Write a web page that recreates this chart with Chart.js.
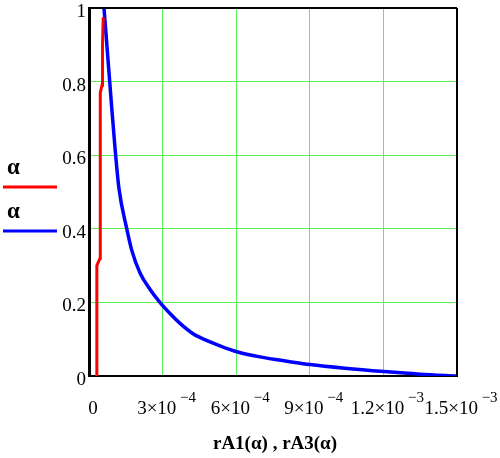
<!DOCTYPE html>
<html>
<head>
<meta charset="utf-8">
<script src="https://cdn.jsdelivr.net/npm/chart.js@4/dist/chart.umd.min.js"></script>
<style>
  html, body { margin: 0; padding: 0; background: #fff; }
  #wrap { width: 500px; height: 458px; }
</style>
</head>
<body>
<div id="wrap"><canvas id="plot"></canvas></div>
<script>
// rA1(alpha) - red trace (stepped)
const alphaRed = [0, 0.30, 0.32, 0.77, 0.79, 0.90, 0.975];
const rA1      = [3.2e-5, 3.2e-5, 4.5e-5, 4.6e-5, 5.3e-5, 5.5e-5, 5.8e-5];

// rA3(alpha) - blue trace
const alphaBlue = [1.0, 0.93, 0.86, 0.79, 0.72, 0.62, 0.51, 0.40, 0.34, 0.28, 0.235, 0.20, 0.167, 0.143, 0.115, 0.105, 0.082, 0.066, 0.052, 0.039, 0.031, 0.021, 0.012, 0.005, 0.0];
const rA3       = [6.11e-5, 6.93e-5, 7.74e-5, 8.56e-5, 9.37e-5, 1.06e-4, 1.22e-4, 1.54e-4, 1.75e-4, 2.08e-4, 2.49e-4, 2.89e-4, 3.34e-4, 3.71e-4, 4.24e-4, 4.52e-4, 5.34e-4, 6.03e-4, 6.97e-4, 8.19e-4, 9.01e-4, 1.043e-3, 1.202e-3, 1.349e-3, 1.5e-3];

// axis ticks
const xTickValues = [0, 3e-4, 6e-4, 9e-4, 1.2e-3, 1.5e-3];
const xTickMant   = ['0', '3', '6', '9', '1.2', '1.5'];
const xTickExp    = ['', '\u22124', '\u22124', '\u22124', '\u22123', '\u22123'];
const yTickValues = [0, 0.2, 0.4, 0.6, 0.8, 1];
const yTickLabels = ['0', '0.2', '0.4', '0.6', '0.8', '1'];

const legendLabels = ['\u03B1', '\u03B1'];
const axisTitle = 'rA1(\u03B1) , rA3(\u03B1)';

const SERIF = "'Liberation Serif', 'DejaVu Serif', serif";
const GRID = 'rgb(90,240,90)';

function toPoints(xs, ys) {
    return xs.map((x, i) => ({ x: x, y: ys[i] }));
}

// frame, tick labels, legend and axis title drawn Mathcad-style
const mathcadDecor = {
    id: 'mathcadDecor',
    afterDraw(chart) {
        const ctx = chart.ctx;
        const a = chart.chartArea;
        const xs = chart.scales.x, ys = chart.scales.y;
        ctx.save();

        // frame
        ctx.strokeStyle = '#000';
        ctx.lineWidth = 2;
        ctx.beginPath();
        ctx.moveTo(a.left, a.top); ctx.lineTo(a.right, a.top);
        ctx.moveTo(a.right, a.top); ctx.lineTo(a.right, a.bottom);
        ctx.stroke();

        // y tick labels
        ctx.fillStyle = '#000';
        ctx.font = '19px ' + SERIF;
        ctx.textAlign = 'right';
        ctx.textBaseline = 'middle';
        yTickValues.forEach((v, i) => {
            ctx.fillText(yTickLabels[i], a.left - 3, ys.getPixelForValue(v) + 4);
        });

        // x tick labels with raised exponent
        ctx.textAlign = 'left';
        xTickValues.forEach((v, i) => {
            let mant = xTickExp[i] ? xTickMant[i] + '\u00D710' : xTickMant[i];
            ctx.font = '19px ' + SERIF;
            let wm = ctx.measureText(mant).width;
            ctx.font = '15px ' + SERIF;
            let we = xTickExp[i] ? ctx.measureText(' ' + xTickExp[i]).width : 0;
            let x0 = xs.getPixelForValue(v) + 4 - (wm + we) / 2;
            ctx.font = '19px ' + SERIF;
            ctx.fillText(mant, x0, 409);
            if (xTickExp[i]) {
                ctx.font = '15px ' + SERIF;
                ctx.fillText(' ' + xTickExp[i], x0 + wm, 398);
            }
        });

        // axis title
        ctx.font = 'bold 19px ' + SERIF;
        ctx.textAlign = 'center';
        ctx.fillText(axisTitle, (a.left + a.right) / 2 + 2, 444);

        // legend
        const legendColors = ['#ff0000', '#0000ff'];
        const legendY = [168, 212];
        legendLabels.forEach((t, i) => {
            ctx.font = 'bold 23px ' + SERIF;
            ctx.textAlign = 'left';
            ctx.fillStyle = '#000';
            ctx.fillText(t, 7, legendY[i]);
            ctx.strokeStyle = legendColors[i];
            ctx.lineWidth = 3;
            ctx.beginPath();
            ctx.moveTo(3, legendY[i] + 19);
            ctx.lineTo(57, legendY[i] + 19);
            ctx.stroke();
        });

        ctx.restore();
    }
};

new Chart(document.getElementById('plot').getContext('2d'), {
    type: 'scatter',
    data: {
        datasets: [{
            data: toPoints(rA1, alphaRed),
            showLine: true, borderColor: '#ff0000', borderWidth: 3,
            pointRadius: 0, tension: 0, fill: false
        }, {
            data: toPoints(rA3, alphaBlue),
            showLine: true, borderColor: '#0000ff', borderWidth: 3.5,
            pointRadius: 0, cubicInterpolationMode: 'monotone', fill: false
        }]
    },
    options: {
        responsive: true, maintainAspectRatio: false, animation: false,
        layout: { padding: { left: 89, right: 43, top: 8, bottom: 82 } },
        plugins: { legend: { display: false }, tooltip: { enabled: false } },
        scales: {
            x: {
                type: 'linear', min: 0, max: 1.5e-3,
                afterBuildTicks: s => { s.ticks = xTickValues.map(v => ({ value: v })); },
                ticks: { display: false },
                grid: { color: GRID, lineWidth: 1, drawTicks: false, tickLength: 0 },
                border: { color: '#000', width: 2 }
            },
            y: {
                type: 'linear', min: 0, max: 1,
                afterBuildTicks: s => { s.ticks = yTickValues.map(v => ({ value: v })); },
                ticks: { display: false },
                grid: { color: GRID, lineWidth: 1, drawTicks: false, tickLength: 0 },
                border: { color: '#000', width: 3 }
            }
        }
    },
    plugins: [mathcadDecor]
});
</script>
</body>
</html>
